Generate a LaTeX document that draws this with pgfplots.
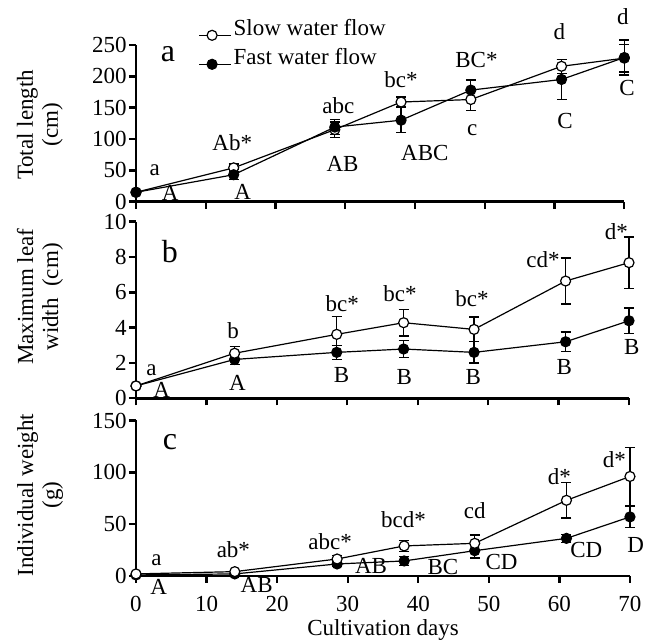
\documentclass[border=0pt]{standalone}
\usepackage{pgfplots}
\pgfplotsset{compat=1.18}
\usepackage{pgfplotstable}
\usepackage{fontspec}
\setmainfont{Liberation Serif}

% Total length (cm)
\pgfplotstableread{
x y e
0 15 3
14 54 6
28.5 115 12
38 159 8
48 163 18
61 216 11
70 229 22
}\slowA
\pgfplotstableread{
x y e
0 15 3
14 43 8
28.5 119 12
38 130 20
48 178 16
61 195 32
70 230 28
}\fastA
% Maximum leaf width (cm)
\pgfplotstableread{
x y e
0 0.7 0.1
14 2.55 0.37
28.5 3.62 1.0
38 4.28 0.75
48 3.9 0.7
61 6.64 1.3
70 7.68 1.45
}\slowB
\pgfplotstableread{
x y e
0 0.7 0.1
14 2.2 0.3
28.5 2.6 0.4
38 2.79 0.48
48 2.6 0.6
61 3.2 0.55
70 4.39 0.72
}\fastB
% Individual weight (g)
\pgfplotstableread{
x y e
0 2 0.5
14 4.2 1
28.5 16.4 3
38 29 5
48 31.5 8
61 73 17
70 96 28
}\slowC
\pgfplotstableread{
x y e
0 1 0.3
14 2 0.5
28.5 11.6 2
38 14.5 4
48 24.4 7
61 36.3 4
70 57 10
}\fastC

\pgfplotsset{
  panel/.style={
    scale only axis,
    anchor=south west,
    axis lines=left,
    axis line style={-, line width=1.4pt},
    enlargelimits=false,
    clip=false,
    xmin=0, xmax=70,
    xtick={0,10,...,70},
    tick align=outside,
    major tick length=3.5pt,
    tick style={line width=1.2pt, black},
    tick label style={font=\fontsize{11.5}{13}\selectfont},
    yticklabel style={inner sep=1pt},
    /pgf/number format/assume math mode=true,
    every axis y label/.style={rotate=90, anchor=center, align=center,
      font=\fontsize{11.5}{12.5}\selectfont},
  },
  slow/.style={black, line width=0.6pt, mark=*, mark size=2.5pt,
    mark options={fill=white, draw=black, line width=0.6pt},
    error bars/.cd, y dir=both, y explicit,
    error bar style={line width=0.6pt, black},
    error mark options={rotate=90, mark size=2.5pt, line width=0.6pt, black}},
  fast/.style={black, line width=0.6pt, mark=*, mark size=2.5pt,
    mark options={fill=black, draw=black, line width=0.6pt},
    error bars/.cd, y dir=both, y explicit,
    error bar style={line width=0.6pt, black},
    error mark options={rotate=90, mark size=2.5pt, line width=0.6pt, black}},
}
\newcommand{\ann}{\fontsize{11.5}{13}\selectfont}
\newcommand{\pan}{\fontsize{16}{18}\selectfont}

\begin{document}
\begin{tikzpicture}
\useasboundingbox (0,0) rectangle (330.5pt,321pt);

% ---------- Panel a ----------
\begin{axis}[panel,
  at={(68pt,220.15pt)}, width=244.15pt, height=78.35pt,
  ymin=0, ymax=250, ytick={0,50,...,250},
  xticklabels={},
  ylabel={Total length\\(cm)},
  ylabel style={at={(axis description cs:-0.197,0.49)}},
  legend style={at={(axis cs:8.9,294)}, anchor=north west, draw=none, fill=none,
    font=\fontsize{11.5}{13}\selectfont, row sep=2pt, inner sep=0pt,
    nodes={inner sep=1pt, text height=8pt, text depth=2.5pt}},
  legend cell align=left,
  legend image code/.code={\draw[#1, mark repeat=2, mark phase=2]
    plot coordinates {(0pt,-2.5pt) (6.5pt,-2.5pt) (16pt,-2.5pt)};},
]
\addplot+[slow] table[x=x, y=y, y error=e] {\slowA};
\addlegendentry{Slow water flow}
\addplot+[fast] table[x=x, y=y, y error=e] {\fastA};
\addlegendentry{Fast water flow}
\node[font=\pan] at (axis cs:4.6,236) {a};
\node[font=\ann] at (axis cs:2.7,50) {a};
\node[font=\ann] at (axis cs:4.9,14) {A};
\node[font=\ann] at (axis cs:13.8,94) {Ab*};
\node[font=\ann] at (axis cs:15.3,15) {A};
\node[font=\ann] at (axis cs:29,154) {abc};
\node[font=\ann] at (axis cs:29.6,61) {AB};
\node[font=\ann] at (axis cs:38,194) {bc*};
\node[font=\ann] at (axis cs:41.4,77) {ABC};
\node[font=\ann] at (axis cs:48.8,226) {BC*};
\node[font=\ann] at (axis cs:48.2,114) {c};
\node[font=\ann] at (axis cs:60.7,271) {d};
\node[font=\ann] at (axis cs:61.5,128) {C};
\node[font=\ann] at (axis cs:69.8,295) {d};
\node[font=\ann] at (axis cs:70.4,181) {C};
\end{axis}

% ---------- Panel b ----------
\begin{axis}[panel,
  at={(68pt,121.85pt)}, width=246.5pt, height=88.3pt,
  ymin=0, ymax=10, ytick={0,2,...,10},
  xticklabels={},
  ylabel={Maximum leaf\\width~ (cm)},
  ylabel style={at={(axis description cs:-0.195,0.574)}},
]
\addplot+[fast] table[x=x, y=y, y error=e] {\fastB};
\addplot+[slow] table[x=x, y=y, y error=e] {\slowB};
\node[font=\pan] at (axis cs:4.8,8.3) {b};
\node[font=\ann] at (axis cs:2.2,1.6) {a};
\node[font=\ann] at (axis cs:3.65,0.5) {A};
\node[font=\ann] at (axis cs:13.8,3.83) {b};
\node[font=\ann] at (axis cs:14.4,0.85) {A};
\node[font=\ann] at (axis cs:29.3,5.38) {bc*};
\node[font=\ann] at (axis cs:29.2,1.32) {B};
\node[font=\ann] at (axis cs:37.5,5.94) {bc*};
\node[font=\ann] at (axis cs:38.1,1.22) {B};
\node[font=\ann] at (axis cs:47.7,5.66) {bc*};
\node[font=\ann] at (axis cs:47.9,1.22) {B};
\node[font=\ann] at (axis cs:57.8,7.83) {cd*};
\node[font=\ann] at (axis cs:60.8,1.79) {B};
\node[font=\ann] at (axis cs:68.2,9.43) {d*};
\node[font=\ann] at (axis cs:70.4,2.92) {B};
\end{axis}

% ---------- Panel c ----------
\begin{axis}[panel,
  at={(68pt,33pt)}, width=247pt, height=77.75pt,
  ymin=0, ymax=150, ytick={0,50,100,150},
  xticklabel style={yshift=-3pt},
  ylabel={Individual weight\\(g)},
  ylabel style={at={(axis description cs:-0.194,0.52)}},
  xlabel={Cultivation days},
  xlabel style={at={(axis description cs:0.5,-0.347)}, anchor=center,
    font=\fontsize{11.5}{13}\selectfont},
]
\addplot+[fast] table[x=x, y=y, y error=e] {\fastC};
\addplot+[slow] table[x=x, y=y, y error=e] {\slowC};
\node[font=\pan] at (axis cs:4.8,129.5) {c};
\node[font=\ann] at (axis cs:2.9,15.4) {a};
\node[font=\ann] at (axis cs:3.2,-10.3) {A};
\node[font=\ann] at (axis cs:13.8,25) {ab*};
\node[font=\ann] at (axis cs:17.1,-8.7) {AB};
\node[font=\ann] at (axis cs:27.5,33) {abc*};
\node[font=\ann] at (axis cs:33.3,10) {AB};
\node[font=\ann] at (axis cs:37.9,54) {bcd*};
\node[font=\ann] at (axis cs:43.5,9) {BC};
\node[font=\ann] at (axis cs:48,63) {cd};
\node[font=\ann] at (axis cs:51.8,13.8) {CD};
\node[font=\ann] at (axis cs:60,95.8) {d*};
\node[font=\ann] at (axis cs:63.8,25) {CD};
\node[font=\ann] at (axis cs:67.8,112.5) {d*};
\node[font=\ann] at (axis cs:70.8,30) {D};
\end{axis}
\end{tikzpicture}
\end{document}
